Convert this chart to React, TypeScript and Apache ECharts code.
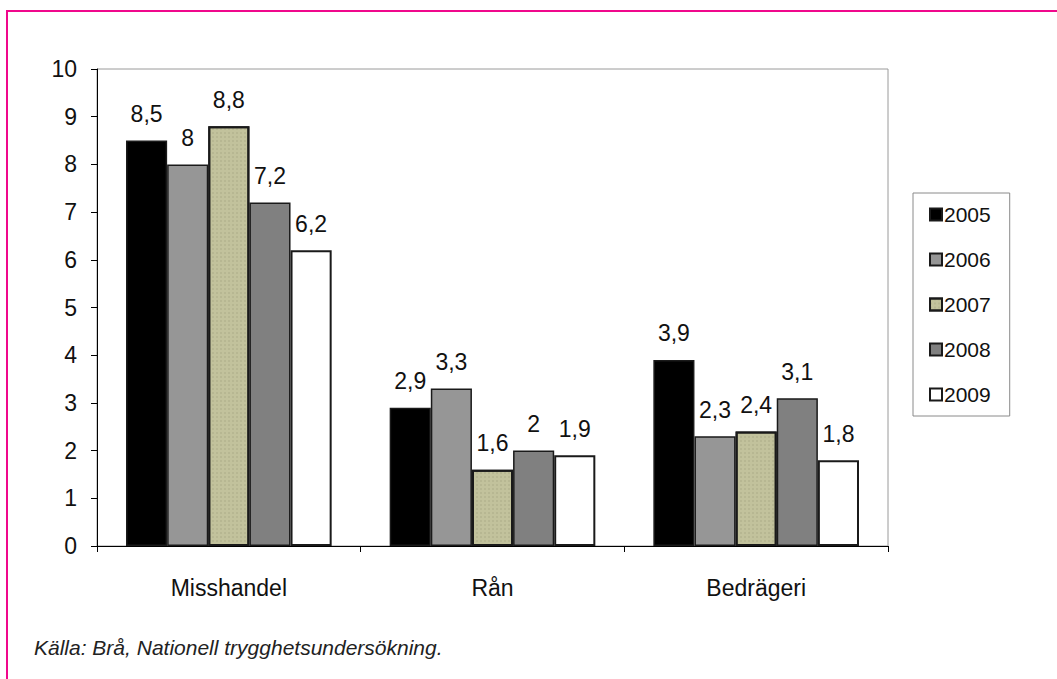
import React, { useEffect, useRef } from "react";
import * as echarts from "echarts";

const categories = ["Misshandel", "Rån", "Bedrägeri"];
const years = ["2005", "2006", "2007", "2008", "2009"];
const v2005 = [8.5, 2.9, 3.9];
const v2006 = [8, 3.3, 2.3];
const v2007 = [8.8, 1.6, 2.4];
const v2008 = [7.2, 2, 3.1];
const v2009 = [6.2, 1.9, 1.8];
const yTicks = [0, 1, 2, 3, 4, 5, 6, 7, 8, 9, 10];
const sourceText = "Källa: Brå, Nationell trygghetsundersökning.";

const seriesValues = [v2005, v2006, v2007, v2008, v2009];
const fills = ["#000000", "#969696", "#c2c29c", "#808080", "#ffffff"];

export default function App() {
  const ref = useRef<HTMLDivElement>(null);
  useEffect(() => {
    if (!ref.current) return;
    const chart = echarts.init(ref.current, undefined, { renderer: "svg" });
    const font = "Liberation Sans, Arial, sans-serif";
    chart.setOption({
      animation: false,
      backgroundColor: "#ffffff",
      textStyle: { fontFamily: font },
      grid: {
        left: 97,
        right: 169,
        top: 69,
        bottom: 133,
        show: true,
        borderColor: "#9a9a9a",
        borderWidth: 1,
      },
      legend: {
        orient: "vertical",
        left: 913,
        top: 193,
        data: years,
        icon: "rect",
        itemWidth: 12,
        itemHeight: 12,
        itemGap: 24,
        padding: [11, 19, 11, 16],
        borderColor: "#8a8a8a",
        borderWidth: 1,
        textStyle: { fontSize: 21, color: "#111", fontFamily: font, padding: [0, 0, 0, -3] },
      },
      xAxis: {
        type: "category",
        data: categories,
        axisLine: { lineStyle: { color: "#000", width: 1 } },
        axisTick: { show: true, length: 6, lineStyle: { color: "#000" } },
        axisLabel: { fontSize: 23, color: "#111", margin: 30, fontFamily: font },
      },
      yAxis: {
        type: "value",
        min: 0,
        max: 10,
        interval: 1,
        axisLine: { show: true, lineStyle: { color: "#000", width: 1 } },
        axisTick: { show: true, length: 6, lineStyle: { color: "#000" } },
        splitLine: { show: false },
        axisLabel: {
          fontSize: 23,
          color: "#111",
          margin: 20,
          fontFamily: font,
          formatter: (v: number) => (yTicks.includes(v) ? String(v) : ""),
        },
      },
      series: years.map((y, i) => ({
        name: y,
        type: "bar",
        data: seriesValues[i],
        barGap: "0%",
        barCategoryGap: "22%",
        itemStyle: {
          color: fills[i],
          borderColor: "#1a1a1a",
          borderWidth: i === 2 || i === 4 ? 2 : 1.5,
          decal:
            i === 2
              ? {
                  symbol: "rect",
                  symbolSize: 0.6,
                  dashArrayX: [2, 2],
                  dashArrayY: [2, 2],
                  color: "rgba(90,90,60,0.35)",
                }
              : undefined,
        },
        label: {
          show: true,
          position: "top",
          distance: 15,
          fontSize: 23,
          color: "#111",
          fontFamily: font,
          formatter: (p: any) => String(p.value).replace(".", ","),
        },
      })),
      graphic: [
        {
          type: "rect",
          shape: { x: 7, y: 11, width: 1200, height: 800 },
          style: { fill: "none", stroke: "#f0088c", lineWidth: 2 },
          silent: true,
        },
        {
          type: "text",
          left: 34,
          top: 637,
          style: {
            text: sourceText,
            fontSize: 21,
            fontStyle: "italic",
            fontFamily: font,
            fill: "#222",
          },
        },
      ],
    });
    return () => chart.dispose();
  }, []);
  return (
    <div
      ref={ref}
      style={{ position: "fixed", left: 0, top: 0, width: 1057, height: 679 }}
    />
  );
}
